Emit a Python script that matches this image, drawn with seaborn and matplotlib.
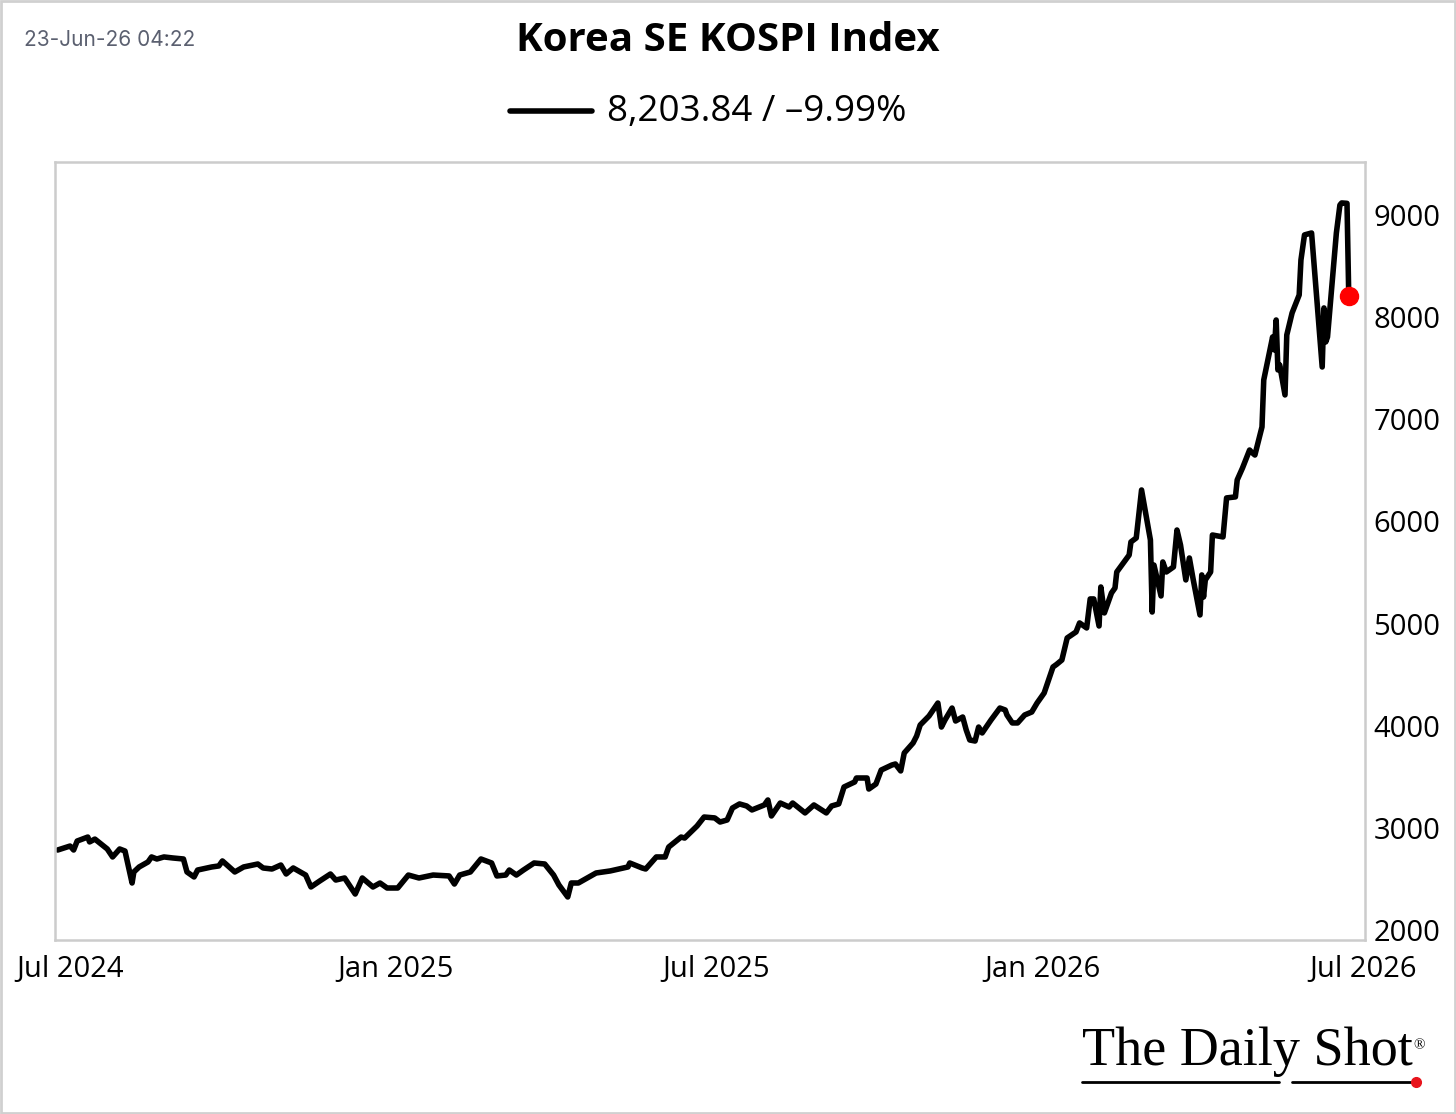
import pandas as pd
import matplotlib.pyplot as plt
from matplotlib.patches import Rectangle
from matplotlib.lines import Line2D
import seaborn as sns

# KOSPI closing levels
dates = [
    "2024-06-24", "2024-07-01", "2024-07-03", "2024-07-05", "2024-07-11", "2024-07-12",
    "2024-07-15", "2024-07-22", "2024-07-25", "2024-07-29", "2024-08-01", "2024-08-05",
    "2024-08-06", "2024-08-09", "2024-08-14", "2024-08-16", "2024-08-19", "2024-08-23",
    "2024-08-28", "2024-09-03", "2024-09-05", "2024-09-09", "2024-09-11", "2024-09-19",
    "2024-09-23", "2024-09-25", "2024-10-02", "2024-10-07", "2024-10-15", "2024-10-18",
    "2024-10-23", "2024-10-28", "2024-10-31", "2024-11-04", "2024-11-11", "2024-11-14",
    "2024-11-19", "2024-11-25", "2024-11-28", "2024-12-03", "2024-12-09", "2024-12-13",
    "2024-12-19", "2024-12-23", "2024-12-27", "2025-01-02", "2025-01-08", "2025-01-14",
    "2025-01-22", "2025-01-31", "2025-02-03", "2025-02-06", "2025-02-12", "2025-02-18",
    "2025-02-24", "2025-02-27", "2025-03-04", "2025-03-06", "2025-03-10", "2025-03-14",
    "2025-03-20", "2025-03-26", "2025-03-31", "2025-04-03", "2025-04-08", "2025-04-10",
    "2025-04-14", "2025-04-18", "2025-04-24", "2025-05-02", "2025-05-12", "2025-05-13",
    "2025-05-20", "2025-05-22", "2025-05-28", "2025-06-02", "2025-06-04", "2025-06-11",
    "2025-06-13", "2025-06-20", "2025-06-24", "2025-06-30", "2025-07-03", "2025-07-07",
    "2025-07-10", "2025-07-14", "2025-07-18", "2025-07-21", "2025-07-28", "2025-07-30",
    "2025-08-01", "2025-08-06", "2025-08-11", "2025-08-13", "2025-08-20", "2025-08-25",
    "2025-09-01", "2025-09-04", "2025-09-08", "2025-09-11", "2025-09-17", "2025-09-18",
    "2025-09-24", "2025-09-25", "2025-09-29", "2025-10-02", "2025-10-08", "2025-10-10",
    "2025-10-13", "2025-10-15", "2025-10-20", "2025-10-22", "2025-10-24", "2025-10-29",
    "2025-11-03", "2025-11-05", "2025-11-07", "2025-11-11", "2025-11-13", "2025-11-17",
    "2025-11-19", "2025-11-21", "2025-11-24", "2025-11-26", "2025-11-28", "2025-12-03",
    "2025-12-08", "2025-12-11", "2025-12-12", "2025-12-15", "2025-12-18", "2025-12-22",
    "2025-12-26", "2025-12-29", "2026-01-02", "2026-01-07", "2026-01-09", "2026-01-12",
    "2026-01-15", "2026-01-20", "2026-01-22", "2026-01-26", "2026-01-28", "2026-01-30",
    "2026-02-02", "2026-02-03", "2026-02-05", "2026-02-09", "2026-02-11", "2026-02-12",
    "2026-02-19", "2026-02-20", "2026-02-23", "2026-02-26", "2026-03-03", "2026-03-04",
    "2026-03-05", "2026-03-09", "2026-03-10", "2026-03-12", "2026-03-16", "2026-03-18",
    "2026-03-20", "2026-03-23", "2026-03-25", "2026-03-27", "2026-03-31", "2026-04-01",
    "2026-04-02", "2026-04-03", "2026-04-06", "2026-04-07", "2026-04-13", "2026-04-15",
    "2026-04-20", "2026-04-21", "2026-04-24", "2026-04-28", "2026-04-29", "2026-05-01",
    "2026-05-05", "2026-05-06", "2026-05-11", "2026-05-12", "2026-05-13", "2026-05-14",
    "2026-05-15", "2026-05-18", "2026-05-19", "2026-05-22", "2026-05-26", "2026-05-27",
    "2026-05-29", "2026-06-02", "2026-06-08", "2026-06-09", "2026-06-10", "2026-06-11",
    "2026-06-16", "2026-06-18", "2026-06-19", "2026-06-22", "2026-06-23",
]
values = [
    2783, 2822, 2783, 2871, 2910, 2862,
    2890, 2793, 2715, 2793, 2773, 2460,
    2568, 2617, 2666, 2715, 2695, 2715,
    2705, 2695, 2568, 2519, 2587, 2617,
    2627, 2676, 2568, 2617, 2646, 2607,
    2597, 2636, 2548, 2607, 2538, 2421,
    2480, 2548, 2489, 2509, 2352, 2509,
    2421, 2460, 2411, 2411, 2538, 2509,
    2538, 2529, 2450, 2538, 2568, 2695,
    2656, 2529, 2538, 2587, 2538, 2587,
    2656, 2646, 2538, 2441, 2323, 2460,
    2460, 2499, 2558, 2578, 2617, 2656,
    2607, 2597, 2715, 2715, 2812, 2910,
    2900, 3018, 3106, 3097, 3057, 3077,
    3194, 3234, 3214, 3175, 3224, 3273,
    3116, 3243, 3204, 3243, 3146, 3224,
    3146, 3214, 3234, 3400, 3449, 3488,
    3488, 3380, 3429, 3566, 3615, 3625,
    3557, 3733, 3831, 3899, 4007, 4095,
    4222, 3987, 4056, 4173, 4046, 4085,
    3958, 3860, 3850, 3987, 3929, 4056,
    4173, 4154, 4105, 4027, 4027, 4105,
    4134, 4222, 4320, 4575, 4600, 4643,
    4859, 4918, 5006, 4957, 5241, 5241,
    4976, 5358, 5104, 5299, 5348, 5505,
    5671, 5799, 5838, 6308, 5818, 5113,
    5573, 5270, 5603, 5505, 5554, 5916,
    5769, 5427, 5642, 5446, 5084, 5476,
    5260, 5427, 5505, 5867, 5848, 6230,
    6240, 6406, 6523, 6699, 6680, 6650,
    6925, 7385, 7806, 7679, 7972, 7483,
    7532, 7238, 7825, 8041, 8217, 8560,
    8805, 8824, 7512, 8090, 7757, 7806,
    8824, 9098, 9118, 9114, 8203.84,
]

y_ticks = [2000, 3000, 4000, 5000, 6000, 7000, 8000, 9000]
x_ticks = ["2024-07-01", "2025-01-01", "2025-07-01", "2026-01-01", "2026-07-01"]
x_tick_labels = ["Jul 2024", "Jan 2025", "Jul 2025", "Jan 2026", "Jul 2026"]

df = pd.DataFrame({"date": pd.to_datetime(dates), "value": values})

sns.set_style("white")
plt.rcParams["font.family"] = ["Open Sans", "DejaVu Sans"]
plt.rcParams["text.color"] = "black"

fig = plt.figure(figsize=(14.56, 11.14), dpi=100)
ax = fig.add_axes([0.0378, 0.1562, 0.8997, 0.6984])

sns.lineplot(data=df, x="date", y="value", ax=ax, color="black", linewidth=4.0)
last = df.iloc[-1]
ax.plot(last["date"], last["value"], "o", color="#ff0000", markersize=13, zorder=5)

ax.set_xlim(pd.Timestamp("2024-06-22 12:00"), pd.Timestamp("2026-07-02 04:00"))
ax.set_ylim(1902, 9519)
ax.yaxis.tick_right()
ax.set_yticks(y_ticks)
ax.set_xticks(pd.to_datetime(x_ticks))
ax.set_xticklabels(x_tick_labels)
ax.tick_params(axis="both", length=0, labelsize=21, colors="black")
ax.tick_params(axis="x", pad=11)
ax.tick_params(axis="y", pad=6)
ax.set_xlabel("")
ax.set_ylabel("")
for s in ax.spines.values():
    s.set_color("#cccccc")
    s.set_linewidth(1.8)

# header
fig.text(0.5, 0.964, "Korea SE KOSPI Index", ha="center", va="center",
         fontsize=29, fontweight="bold", color="black")
fig.lines.append(Line2D([510 / 1456, 592 / 1456], [1 - 111 / 1114] * 2,
                        transform=fig.transFigure, color="black", linewidth=4))
fig.text(607 / 1456, 1 - 112 / 1114, "8,203.84 / \u20139.99%", ha="left", va="center",
         fontsize=26.5, color="black")
fig.text(24 / 1456, 1 - 40 / 1114, "23-Jun-26 04:22", ha="left", va="center",
         fontsize=15, color="#5b6070", family=["Inter", "DejaVu Sans"])

# logo
fig.text(1082 / 1456, 1 - 1052 / 1114, "The Daily Shot", ha="left", va="center",
         fontsize=39, family=["Liberation Serif", "DejaVu Serif"], color="black")
fig.text(1413 / 1456, 1 - 1046 / 1114, "\u00ae", ha="left", va="center",
         fontsize=11, family=["Liberation Serif", "DejaVu Serif"])
yl = 1 - 1082 / 1114
fig.lines.append(Line2D([1082 / 1456, 1279 / 1456], [yl, yl], transform=fig.transFigure,
                        color="black", linewidth=2))
fig.lines.append(Line2D([1292 / 1456, 1413 / 1456], [yl, yl], transform=fig.transFigure,
                        color="black", linewidth=2))
fig.lines.append(Line2D([1416 / 1456], [yl], transform=fig.transFigure, marker="o",
                        color="#e8141c", markersize=7, linestyle="none"))

# outer frame
fig.patches.append(Rectangle((0.001, 0.001), 0.998, 0.998, transform=fig.transFigure,
                             fill=False, edgecolor="#d0d0d0", linewidth=2))

plt.savefig("out.png", dpi=100)
plt.close()
